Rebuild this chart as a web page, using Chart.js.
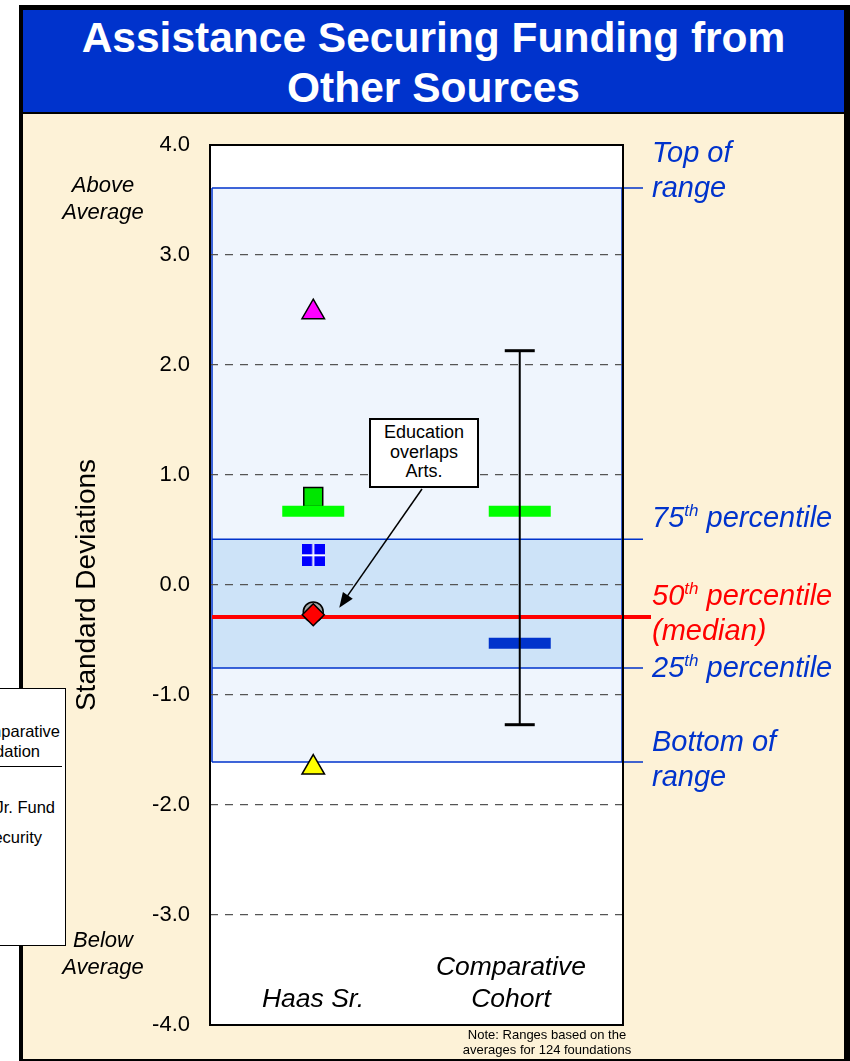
<!DOCTYPE html>
<html lang="en">
<head>
<meta charset="UTF-8">
<script src="https://cdn.jsdelivr.net/npm/chart.js@4.4.0/dist/chart.umd.min.js"></script>
<title>Assistance Securing Funding from Other Sources</title>
<style>
  body{margin:0; width:850px; height:1061px; overflow:hidden; background:#fff; font-family:Arial, "Liberation Sans", sans-serif; position:relative;}
  #frame{position:absolute; left:19px; top:5px; width:821px; height:1049px; border-style:solid; border-color:#000; border-width:5px 6px 2px 4px; background:#fdf2d7;}
  #title{position:absolute; left:0; top:0; width:100%; height:99px; padding-top:3px; background:#0033cc; border-bottom:2px solid #000; color:#fff; font-weight:bold; font-size:42.5px; text-align:center; line-height:50px;}
  #wrap{position:absolute; left:0; top:0; width:850px; height:1061px;}
  .lbl{position:absolute; white-space:nowrap;}
  .blue{color:#0033cc; font-style:italic; font-size:29px; left:652px; line-height:35px;}
  .red{color:#ff0000;}
  sup{font-size:17px; vertical-align:11px; line-height:0;}
  .side{font-style:italic; font-size:22px; line-height:27px; text-align:center; left:40px; width:126px;}
  .cat{font-style:italic; font-size:26.5px; line-height:32px; text-align:center;}
  #callout{position:absolute; left:369px; top:418px; width:106px; height:63px; border:2px solid #000; background:#fff; font-size:18px; line-height:19.5px; text-align:center; padding-top:3px;}
  #legendbox{position:absolute; left:-100px; top:688px; width:164px; height:256px; border:1px solid #000; background:#fff;}
  .lg{position:absolute; font-size:16.5px; white-space:nowrap;}
</style>
</head>
<body>
<div id="frame"><div id="title">Assistance Securing Funding from<br>Other Sources</div></div>
<div id="wrap"><canvas id="myChart" width="850" height="1061"></canvas></div>

<div class="lbl blue" style="top:135px">Top of<br>range</div>
<div class="lbl blue" style="top:500px">75<sup>th</sup> percentile</div>
<div class="lbl blue red" style="top:578px">50<sup>th</sup> percentile<br>(median)</div>
<div class="lbl blue" style="top:650px">25<sup>th</sup> percentile</div>
<div class="lbl blue" style="top:724px">Bottom of<br>range</div>

<div class="lbl side" style="top:171px">Above<br>Average</div>
<div class="lbl side" style="top:926px">Below<br>Average</div>

<div class="lbl cat" style="left:233px; width:160px; top:982px">Haas Sr.</div>
<div class="lbl cat" style="left:431px; width:160px; top:950px">Comparative<br>Cohort</div>

<div id="callout">Education<br>overlaps<br>Arts.</div>

<div class="lbl" style="left:447px; width:200px; top:1027px; font-size:13px; line-height:15px; text-align:center">Note: Ranges based on the<br>averages for 124 foundations</div>

<div id="legendbox"></div>
<div class="lg" style="right:790px; top:722px">Comparative</div>
<div class="lg" style="right:810px; top:742px">Foundation</div>
<div style="position:absolute; left:0; top:766px; width:62px; border-top:1px solid #000"></div>
<div class="lg" style="right:795px; top:798px">Haas Jr. Fund</div>
<div class="lg" style="right:808px; top:828px">Social Security</div>

<script>
// data (standard deviations)
const categories = ['Haas Sr.', 'Comparative Cohort'];
const categoryX = [0.5, 1.5];
const yTickValues = [-4, -3, -2, -1, 0, 1, 2, 3, 4];
// top of range, 75th, median, 25th, bottom of range
const bandValues = [3.61, 0.415, -0.29, -0.755, -1.61];
// Haas Sr. markers
const haasValues = [2.48, 0.80, 0.27, -0.245, -0.27, -1.66];
const haasStyles = ['triangle', 'rect', 'cross', 'circle', 'rectRot', 'triangle'];
const haasColors = ['#ff00ff', '#00e600', '#0000ff', '#a6a6a6', '#ff0000', '#ffff00'];
const haasSizes = [13, 13.4, 11, 10, 11, 13];
// green bars (both columns) and blue bar (cohort)
const greenBarValues = [0.67, 0.67];
const blueBarValues = [-0.53];
// cohort min/max whisker
const cohortRange = [-1.27, 2.13];

function crossSquare() {
    const c = document.createElement('canvas');
    c.width = 23; c.height = 22;
    const g = c.getContext('2d');
    g.fillStyle = '#0000ff'; g.fillRect(0, 0, 23, 22);
    g.fillStyle = '#fff'; g.fillRect(10.5, 0, 2, 22); g.fillRect(0, 10, 23, 2);
    return c;
}
const cross = crossSquare();

const bandPlugin = {
    id: 'bands',
    beforeDraw(chart) {
        const ctx = chart.ctx, a = chart.chartArea, y = chart.scales.y;
        const L = a.left + 2, R = a.right;
        const p = bandValues.map(v => y.getPixelForValue(v));
        ctx.save();
        ctx.fillStyle = '#fff';
        ctx.fillRect(a.left, a.top, a.width, a.height);
        ctx.fillStyle = '#eff5fd';
        ctx.fillRect(L, p[0], R - L, p[4] - p[0]);
        ctx.fillStyle = '#cde3f8';
        ctx.fillRect(L, p[1], R - L, p[3] - p[1]);
        ctx.strokeStyle = '#0033cc';
        ctx.lineWidth = 1.5;
        ctx.beginPath();
        ctx.moveTo(L, p[0]); ctx.lineTo(L, p[4]);
        ctx.moveTo(R - 1, p[0]); ctx.lineTo(R - 1, p[4]);
        [0, 1, 3, 4].forEach(i => { ctx.moveTo(L, p[i]); ctx.lineTo(R + 20, p[i]); });
        ctx.stroke();
        ctx.strokeStyle = '#ff0000';
        ctx.lineWidth = 4;
        ctx.beginPath();
        ctx.moveTo(L, p[2]); ctx.lineTo(R + 28, p[2]);
        ctx.stroke();
        ctx.restore();
    },
    afterDraw(chart) {
        const ctx = chart.ctx, a = chart.chartArea, x = chart.scales.x, y = chart.scales.y;
        ctx.save();
        ctx.strokeStyle = '#000';
        ctx.lineWidth = 2;
        ctx.strokeRect(a.left, a.top, a.width, a.height);
        // callout arrow to the diamond
        const tx = x.getPixelForValue(categoryX[0]) + 26;
        const ty = y.getPixelForValue(haasValues[4]) - 7;
        const sx = 422, sy = 489;
        const ang = Math.atan2(ty - sy, tx - sx);
        ctx.lineWidth = 1.5;
        ctx.beginPath();
        ctx.moveTo(sx, sy);
        ctx.lineTo(tx - 12 * Math.cos(ang), ty - 12 * Math.sin(ang));
        ctx.stroke();
        ctx.fillStyle = '#000';
        ctx.beginPath();
        ctx.moveTo(tx, ty);
        ctx.lineTo(tx - 15 * Math.cos(ang) + 6 * Math.sin(ang), ty - 15 * Math.sin(ang) - 6 * Math.cos(ang));
        ctx.lineTo(tx - 15 * Math.cos(ang) - 6 * Math.sin(ang), ty - 15 * Math.sin(ang) + 6 * Math.cos(ang));
        ctx.closePath();
        ctx.fill();
        ctx.restore();
    }
};

const ctx = document.getElementById('myChart').getContext('2d');
const myChart = new Chart(ctx, {
    type: 'scatter',
    data: {
        datasets: [
            {
                label: 'whisker',
                data: cohortRange.map(v => ({x: categoryX[1], y: v})),
                showLine: true,
                borderColor: '#000',
                borderWidth: 2,
                pointStyle: 'line',
                pointRadius: 15,
                pointBorderWidth: 3,
                pointBorderColor: '#000'
            },
            {
                label: 'green bars',
                data: greenBarValues.map((v, i) => ({x: categoryX[i], y: v})),
                pointStyle: 'line',
                pointRadius: 31,
                pointBorderWidth: 11,
                pointBorderColor: '#00ff00'
            },
            {
                label: 'blue bar',
                data: blueBarValues.map(v => ({x: categoryX[1], y: v})),
                pointStyle: 'line',
                pointRadius: 31,
                pointBorderWidth: 11,
                pointBorderColor: '#0033cc'
            },
            {
                label: categories[0],
                data: haasValues.map(v => ({x: categoryX[0], y: v})),
                pointStyle: haasStyles.map(s => s === 'cross' ? cross : s),
                pointBackgroundColor: haasColors,
                pointBorderColor: '#000',
                pointBorderWidth: 1.5,
                pointRadius: haasSizes
            }
        ]
    },
    options: {
        responsive: false,
        animation: false,
        events: [],
        layout: { autoPadding: false, padding: { left: 66, right: 227, top: 145, bottom: 36 } },
        plugins: { legend: { display: false }, tooltip: { enabled: false } },
        scales: {
            x: { type: 'linear', min: 0, max: 2, display: false },
            y: {
                min: -4, max: 4,
                afterBuildTicks: s => { s.ticks = yTickValues.map(v => ({value: v})); },
                afterFit: s => { s.width = 144; },
                ticks: {
                    padding: 20,
                    color: '#000',
                    font: { family: 'Arial', size: 22 },
                    callback: v => v.toFixed(1)
                },
                grid: {
                    drawTicks: false,
                    lineWidth: 1.2,
                    color: c => (c.tick && Math.abs(c.tick.value) === 4) ? 'rgba(0,0,0,0)' : '#555'
                },
                border: { display: false, dash: [8, 7] },
                title: {
                    display: true,
                    text: 'Standard Deviations',
                    color: '#000',
                    font: { family: 'Arial', size: 28 }
                }
            }
        }
    },
    plugins: [bandPlugin]
});
</script>
</body>
</html>
